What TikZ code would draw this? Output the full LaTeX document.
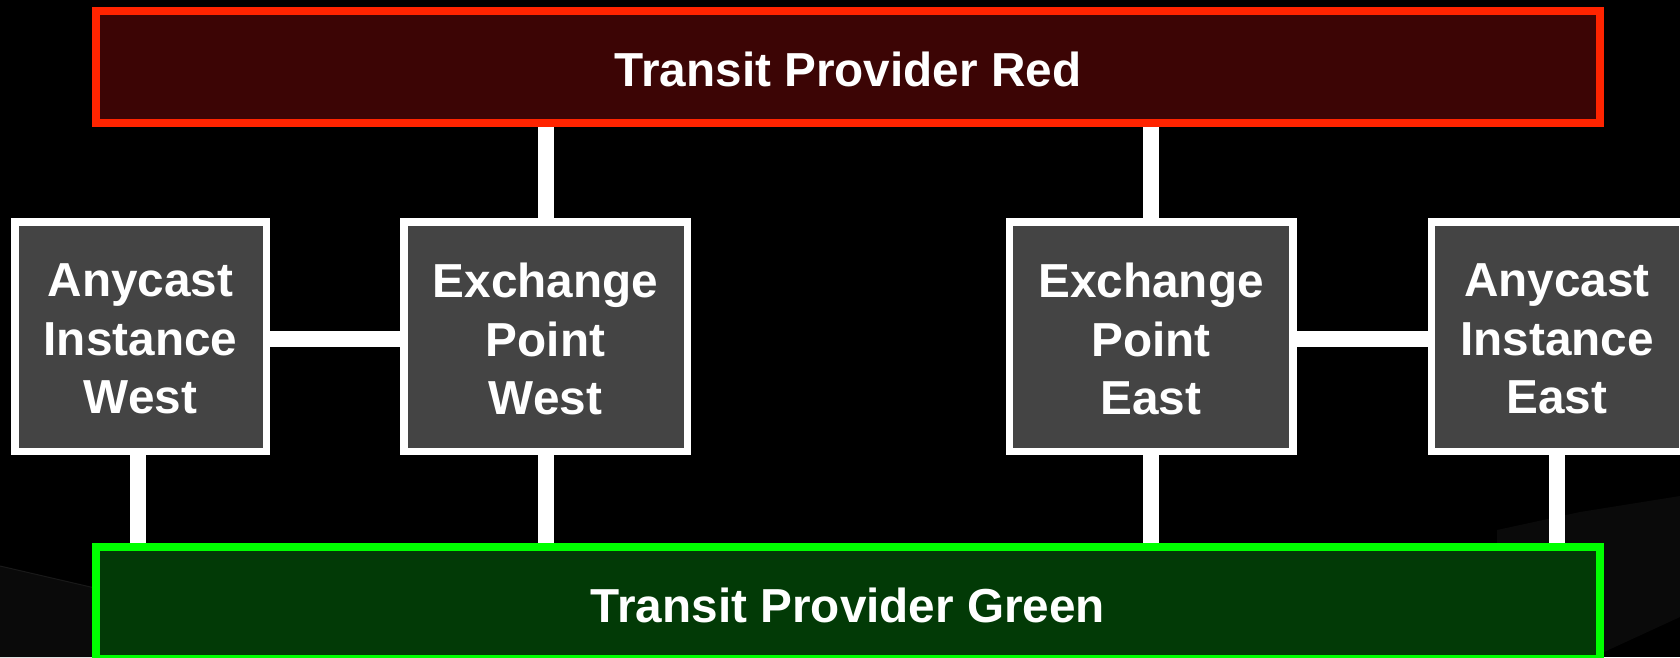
\documentclass[tikz,border=0pt]{standalone}
\usepackage{fontspec}
\setmainfont{Liberation Sans}
\pgfdeclarelayer{bg}
\pgfdeclarelayer{lines}
\pgfsetlayers{bg,lines,main}
\definecolor{redfill}{HTML}{3C0505}
\definecolor{redline}{HTML}{FF2400}
\definecolor{greenfill}{HTML}{023A06}
\definecolor{greenline}{HTML}{00FF00}
\definecolor{boxfill}{HTML}{444444}
\definecolor{faint}{HTML}{0A0A0A}
\tikzset{
  labelfont/.style={font=\fontsize{47.7}{58.4}\selectfont\bfseries, text=white, align=center},
  boxtext/.style={label={[labelfont, yshift=-2.5pt]center:#1}},
  provider/.style={draw, line width=8pt, minimum width=1504pt, minimum height=112pt, inner sep=0pt, outer sep=0pt},
  redprov/.style={provider, draw=redline, fill=redfill},
  greenprov/.style={provider, draw=greenline, fill=greenfill},
  sitebox/.style={draw=white, fill=boxfill, line width=7.5pt, minimum height=229.5pt, inner sep=0pt, outer sep=0pt},
  anybox/.style={sitebox, minimum width=251.5pt},
  exbox/.style={sitebox, minimum width=283.5pt},
  link/.style={draw=white, line width=16pt}
}
\begin{document}
\begin{tikzpicture}[x=1pt, y=-1pt]
\useasboundingbox (0,0) rectangle (1680,657);
\clip (0,0) rectangle (1680,657);
\begin{pgfonlayer}{bg}
  \fill[black] (0,0) rectangle (1680,657);
  \fill[faint] (0,566) -- (95,588) -- (95,657) -- (0,657) -- cycle;
  \draw[color=black!90!white, line width=1pt] (0,566) -- (95,588);
  \fill[faint] (1497,530) -- (1580,512) -- (1680,496) -- (1680,617) -- (1604,652) -- (1497,660) -- cycle;
\end{pgfonlayer}

\node[redprov, boxtext={Transit Provider Red}] (red) at (848,67) {};
\node[greenprov, boxtext={Transit Provider Green}] (green) at (848,603) {};

\node[anybox, boxtext={Anycast\\Instance\\West}] (aw) at (140.5,336.5) {};
\node[exbox, boxtext={Exchange\\Point\\West}] (xw) at (545.5,336.5) {};
\node[exbox, boxtext={Exchange\\Point\\East}] (xe) at (1151,336.5) {};
\node[anybox, boxtext={Anycast\\Instance\\East}] (ae) at (1557,336.5) {};

\begin{pgfonlayer}{lines}
  \draw[link] (xw.north) -- (xw.north |- red.south);
  \draw[link] (xe.north) -- (xe.north |- red.south);
  \draw[link] ([yshift=-2.5pt]aw.east) -- ([yshift=-2.5pt]xw.west);
  \draw[link] ([yshift=-2.5pt]xe.east) -- ([yshift=-2.5pt]ae.west);
  \draw[link] ([xshift=-2.5pt]aw.south) -- ([xshift=-2.5pt]aw.south |- green.north);
  \draw[link] (xw.south) -- (xw.south |- green.north);
  \draw[link] (xe.south) -- (xe.south |- green.north);
  \draw[link] (ae.south) -- (ae.south |- green.north);
\end{pgfonlayer}
\end{tikzpicture}
\end{document}
